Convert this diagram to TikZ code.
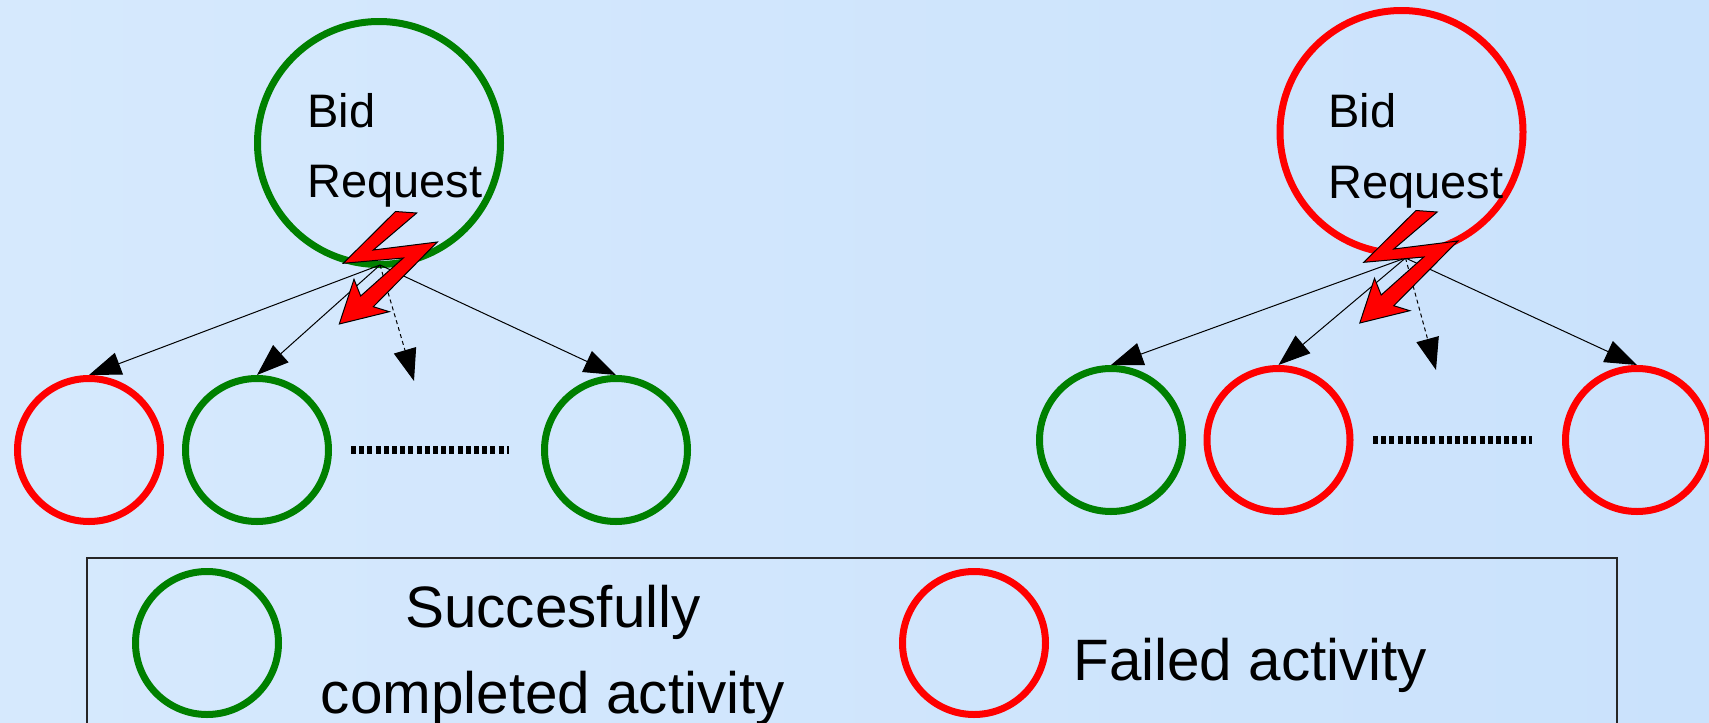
\documentclass[tikz,border=0pt]{standalone}
\usepackage{fontspec}
\setmainfont{Liberation Sans}
\usetikzlibrary{arrows.meta}
\definecolor{okgreen}{RGB}{0,128,0}
\definecolor{failred}{RGB}{255,0,0}
\definecolor{bgL}{RGB}{214,233,253}
\definecolor{bgM}{RGB}{183,215,251}
\definecolor{bgR}{RGB}{202,226,252}
\begin{document}
\begin{tikzpicture}[x=0.5pt,y=-0.5pt,
  bigc/.style={circle, line width=3.5pt, minimum size=121.5pt, inner sep=0pt},
  smallc/.style={circle, line width=3.5pt, minimum size=71.5pt, inner sep=0pt},
  bidtext/.style={font=\fontsize{23.5pt}{28pt}\selectfont, inner sep=0pt, anchor=base west},
  legtext/.style={font=\fontsize{29.2pt}{35pt}\selectfont, inner sep=0pt},
  conn/.style={line width=0.5pt, -{Triangle[length=16pt,width=11.5pt]}},
  dconn/.style={conn, dash pattern=on 2pt off 1.6pt},
  dots/.style={line width=4pt, dash pattern=on 2.5pt off 1.6pt},
  bolt/.pic={\draw[fill=failred, draw=black, line width=0.5pt, line join=miter]
    (395.5,211.5) -- (416.7,213) -- (373.3,250) -- (437.3,242) -- (373.3,306.7)
    -- (389.3,311.7) -- (339.3,324) -- (354,279.3) -- (360.7,296) -- (403.3,258)
    -- (343.3,263.3) -- cycle;}
]
\useasboundingbox (0,0) rectangle (1709,723);
\clip (0,0) rectangle (1709,723);
\shade[left color=bgL, middle color=bgM, right color=bgR] (0,0) rectangle (1709,723);

% ---------- left tree ----------
\node[bigc, draw=okgreen] (reqL) at (379,143) {};
\node[bidtext] (reqLa) at (307,127) {Bid};
\node[bidtext] (reqLb) at (307,197) {Request};
\node[smallc, draw=failred] (l1) at (89,450) {};
\node[smallc, draw=okgreen] (l2) at (257,450) {};
\node[smallc, draw=okgreen] (l3) at (616,450) {};
\coordinate (srcL) at (380,265);
\coordinate (dashL) at (414,381);
\coordinate (dotLa) at (351,450);
\coordinate (dotLb) at (509,450);
\draw[conn] (srcL) -- (l1.north);
\draw[conn] (srcL) -- (l2.north);
\draw[conn] (srcL) -- (l3.north);
\draw[dconn] (srcL) -- (dashL);
\draw[dots] (dotLa) -- (dotLb);
\pic at (0,0) {bolt};

% ---------- right tree ----------
\node[bigc, draw=failred] (reqR) at (1401.5,132) {};
\node[bidtext] (reqRa) at (1328,127) {Bid};
\node[bidtext] (reqRb) at (1328,198) {Request};
\node[smallc, draw=okgreen] (r1) at (1111,440) {};
\node[smallc, draw=failred] (r2) at (1278.5,440) {};
\node[smallc, draw=failred] (r3) at (1637,440) {};
\coordinate (srcR) at (1405.5,258);
\coordinate (dashR) at (1436,370);
\coordinate (dotRa) at (1373,440);
\coordinate (dotRb) at (1532,440);
\draw[conn] (srcR) -- (r1.north);
\draw[conn] (srcR) -- (r2.north);
\draw[conn] (srcR) -- (r3.north);
\draw[dconn] (srcR) -- (dashR);
\draw[dots] (dotRa) -- (dotRb);
\pic at (1020.5,-1) {bolt};

% ---------- legend ----------
\draw[line width=0.75pt, draw=black!85] (87,558) rectangle (1617,760);
\node[smallc, draw=okgreen] (legok) at (207,643) {};
\node[smallc, draw=failred] (legfail) at (974,643) {};
\node[legtext, anchor=base] (legoka) at (553,627) {Succesfully};
\node[legtext, anchor=base] (legokb) at (553,713) {completed activity};
\node[legtext, anchor=base west] (legfailt) at (1073,680) {Failed activity};
\end{tikzpicture}
\end{document}
